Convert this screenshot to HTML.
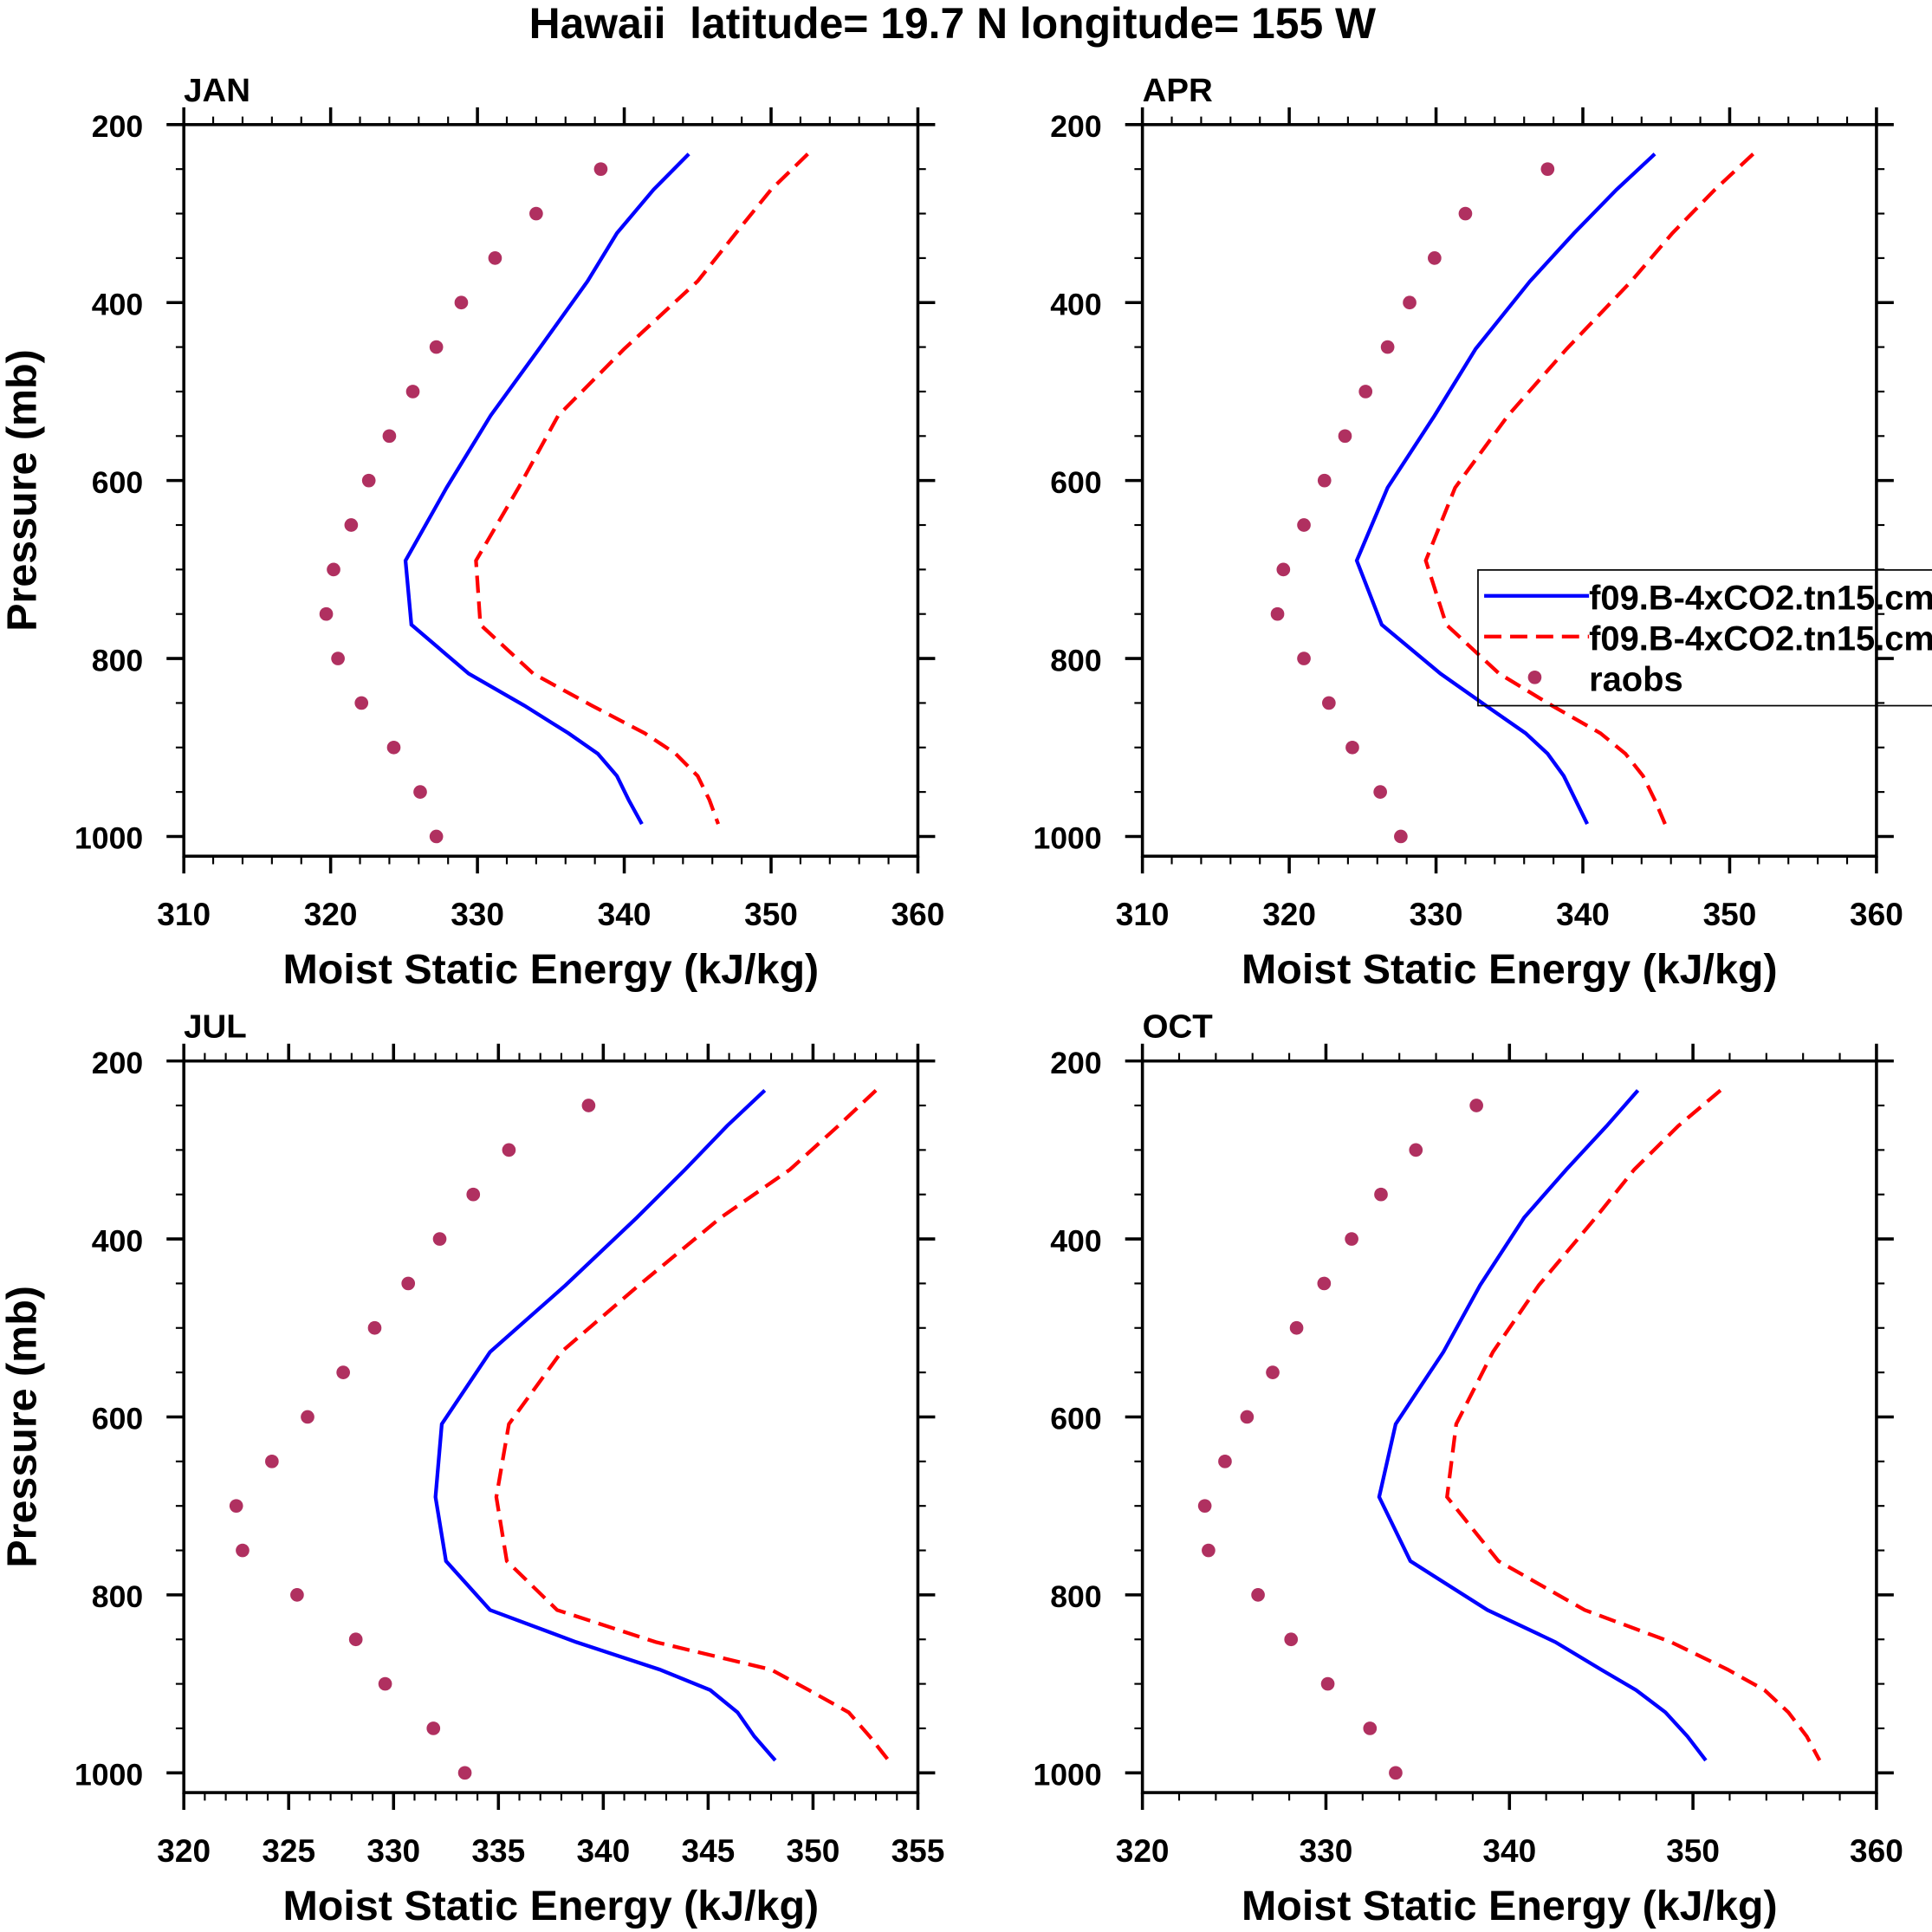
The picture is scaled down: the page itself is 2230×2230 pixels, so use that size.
<!DOCTYPE html>
<html><head><meta charset="utf-8"><style>
html,body{margin:0;padding:0;background:#fff;}
svg{display:block;font-family:"Liberation Sans",Arial,sans-serif;font-weight:bold;}
</style></head><body>
<svg id="fig" width="2230" height="2230" viewBox="0 0 1566 1566" xmlns="http://www.w3.org/2000/svg">
<rect x="0" y="0" width="1566" height="1566" fill="#fff"/>
<text x="772" y="31" font-size="35" text-anchor="middle" xml:space="preserve">Hawaii  latitude= 19.7 N longitude= 155 W</text>
<g id="panels"></g>
<g id="legend">
<rect x="1198" y="462" width="380" height="110" fill="none" stroke="#000" stroke-width="1.2"/>
<line x1="1203" y1="483" x2="1288" y2="483" stroke="#0000ff" stroke-width="3"/>
<text x="1288" y="494" font-size="28">f09.B-4xCO2.tn15.cm</text>
<line x1="1203" y1="516" x2="1288" y2="516" stroke="#ff0000" stroke-width="3" stroke-dasharray="14,7"/>
<text x="1288" y="527" font-size="28">f09.B-4xCO2.tn15.cm</text>
<circle cx="1244" cy="549" r="5.5" fill="#b03060"/>
<text x="1288" y="560" font-size="28">raobs</text>
</g>
</svg>
<script>
const modelP = [233,273,322,376,452,527,608,690,762,817,853,884,907,932,959,986];
const obsP = [250,300,350,400,450,500,550,600,650,700,750,800,850,900,950,1000];
const panelNames = ["JAN","APR","JUL","OCT"];
const xMin = [310,310,320,320];
const xMax = [360,360,355,360];
const xMajor = [10,10,5,10];
const xMinor = [2,2,1,2];
const yTicks = [200,400,600,800,1000];
const janBlue = [344.4,342.0,339.5,337.5,334.2,330.9,327.9,325.1,325.5,329.4,333.2,336.2,338.2,339.5,340.3,341.2];
const janRed = [352.5,350.0,347.6,345.0,340.0,335.5,332.8,329.9,330.2,333.8,337.8,341.4,343.5,345.0,345.8,346.4];
const janObs = [338.4,334.0,331.2,328.9,327.2,325.6,324.0,322.6,321.4,320.2,319.7,320.5,322.1,324.3,326.1,327.2];
const aprBlue = [344.9,342.3,339.4,336.4,332.7,329.9,326.7,324.6,326.3,330.3,333.4,336.1,337.6,338.7,339.5,340.3];
const aprRed = [351.6,349.0,346.1,343.3,338.9,334.9,331.3,329.3,330.7,334.3,337.9,341.2,342.9,344.1,344.9,345.6];
const aprObs = [337.6,332.0,329.9,328.2,326.7,325.2,323.8,322.4,321.0,319.6,319.2,321.0,322.7,324.3,326.2,327.6];
const julBlue = [347.7,345.9,343.9,341.6,338.2,334.6,332.3,332.0,332.5,334.6,338.7,342.7,345.1,346.4,347.2,348.2];
const julRed = [353.0,351.2,348.9,345.6,341.7,338.0,335.5,334.9,335.4,337.8,342.5,348.0,349.8,351.7,352.7,353.6];
const julObs = [339.3,335.5,333.8,332.2,330.7,329.1,327.6,325.9,324.2,322.5,322.8,325.4,328.2,329.6,331.9,333.4];
const octBlue = [347.0,345.3,343.1,340.8,338.4,336.4,333.8,332.9,334.6,338.8,342.5,345.0,346.9,348.5,349.7,350.7];
const octRed = [351.5,349.2,346.8,344.7,341.6,339.1,337.1,336.6,339.4,344.1,348.8,351.9,353.9,355.2,356.2,356.9];
const octObs = [338.2,334.9,333.0,331.4,329.9,328.4,327.1,325.7,324.5,323.4,323.6,326.3,328.1,330.1,332.4,333.8];

const blues=[janBlue,aprBlue,julBlue,octBlue], reds=[janRed,aprRed,julRed,octRed], obss=[janObs,aprObs,julObs,octObs];
const NS="http://www.w3.org/2000/svg";
const root=document.getElementById('panels');
function mk(tag,attrs,parent){const e=document.createElementNS(NS,tag);for(const k in attrs)e.setAttribute(k,attrs[k]);parent.appendChild(e);return e;}
const origins=[[149,101],[926,101],[149,860],[926,860]];
const W=595, H=593, pxPerMb=577/800;
for(let i=0;i<4;i++){
  const [ox,oy]=origins[i];
  const g=mk('g',{},root);
  
  
  const X=v=>ox+(v-xMin[i])/(xMax[i]-xMin[i])*W;
  const Y=p=>oy+(p-200)*pxPerMb;
  const lab=mk('text',{x:ox,y:oy-19,'font-size':27},g); lab.textContent=panelNames[i];
  
  
  for(let v=xMin[i]; v<=xMax[i]+1e-6; v+=xMinor[i]){
    const major=Math.abs(v%xMajor[i])<1e-6;
    const L=major?14:6.5, x=X(v);
    mk('line',{x1:x,y1:oy+H,x2:x,y2:oy+H+L,stroke:'#000','stroke-width':major?2.5:1.5},g);
    mk('line',{x1:x,y1:oy,x2:x,y2:oy-L,stroke:'#000','stroke-width':major?2.5:1.5},g);
    if(major){const t=mk('text',{x:x,y:oy+H+56,'font-size':26,'text-anchor':'middle'},g);t.textContent=String(v);
      
      }
  }
  for(let p=200;p<=1000;p+=50){
    const major=yTicks.includes(p), L=major?14:6.5, y=Y(p);
    mk('line',{x1:ox,y1:y,x2:ox-L,y2:y,stroke:'#000','stroke-width':major?2.5:1.5},g);
    mk('line',{x1:ox+W,y1:y,x2:ox+W+L,y2:y,stroke:'#000','stroke-width':major?2.5:1.5},g);
    if(major){const t=mk('text',{x:ox-33,y:y+10,'font-size':25,'text-anchor':'end'},g);t.textContent=String(p);
      
      }
  }
  const box=mk('rect',{x:ox,y:oy,width:W,height:H,fill:'none',stroke:'#000','stroke-width':2.5},g);
  
  
  const xt=mk('text',{x:ox+W/2,y:oy+H+103,'font-size':34,'text-anchor':'middle'},g);xt.textContent='Moist Static Energy (kJ/kg)';
  
  
  if(i%2===0){const yt=mk('text',{x:0,y:0,'font-size':34,'text-anchor':'middle',transform:`translate(${ox-120},${oy+H/2}) rotate(-90)`},g);yt.textContent='Pressure (mb)';
    
    }
  const pb=mk('polyline',{points:blues[i].map((v,k)=>X(v)+','+Y(modelP[k])).join(' '),fill:'none',stroke:'#0000ff','stroke-width':3},g);
  
  
  const pr=mk('polyline',{points:reds[i].map((v,k)=>X(v)+','+Y(modelP[k])).join(' '),fill:'none',stroke:'#ff0000','stroke-width':3,'stroke-dasharray':'14,7'},g);
  
  
  obss[i].forEach((v,k)=>{const c=mk('circle',{cx:X(v),cy:Y(obsP[k]),r:5.5,fill:'#b03060'},g);
    
    });
}
</script>
</body></html>
